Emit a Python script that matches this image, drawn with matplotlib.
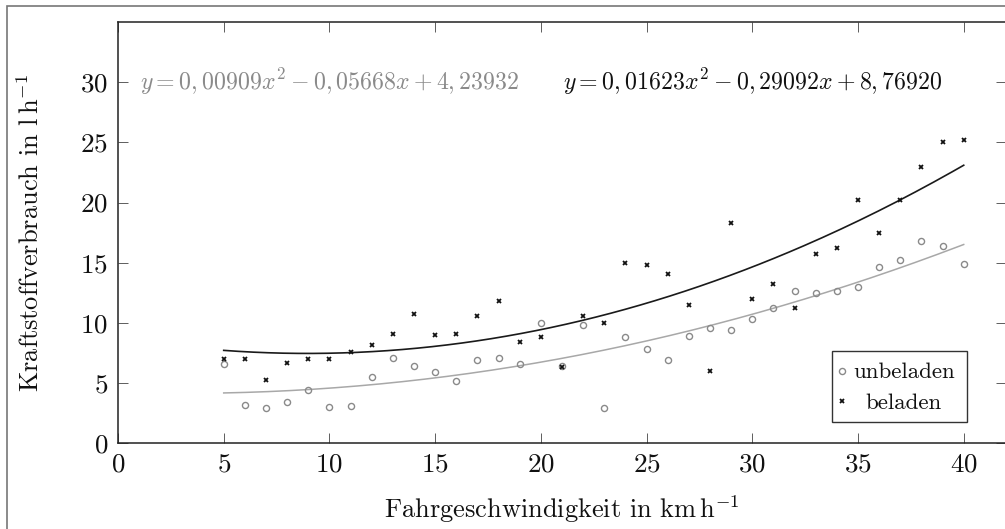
import numpy as np
import matplotlib
matplotlib.use("Agg")
import matplotlib.pyplot as plt
from matplotlib.patches import Rectangle

plt.rcParams['font.family'] = ['cmr10', 'DejaVu Serif']
plt.rcParams['mathtext.fontset'] = 'cm'
plt.rcParams['axes.formatter.use_mathtext'] = True
plt.rcParams['axes.unicode_minus'] = False

# ---- data ----
speed = list(range(5, 41))
unbeladen = [6.6, 3.2, 2.9, 3.4, 4.4, 3.0, 3.1, 5.5, 7.05, 6.45, 5.9, 5.2,
             6.9, 7.05, 6.55, 10.0, 6.4, 9.8, 2.9, 8.8, 7.8, 6.9, 8.95, 9.6,
             9.45, 10.35, 11.25, 12.65, 12.45, 12.65, 12.95, 14.65, 15.25,
             16.8, 16.4, 14.9]
beladen = [7.0, 7.0, 5.3, 6.65, 7.0, 7.0, 7.55, 8.2, 9.1, 10.75, 9.0, 9.1,
           10.6, 11.8, 8.45, 8.85, 6.3, 10.6, 10.0, 15.0, 14.85, 14.1, 11.5,
           6.0, 18.3, 12.0, 13.25, 11.2, 15.7, 16.2, 20.25, 17.5, 20.2,
           22.95, 25.0, 25.2]
coef_unbeladen = [0.00909, -0.05668, 4.23932]
coef_beladen = [0.01623, -0.29092, 8.76920]
label_unbeladen = "unbeladen"
label_beladen = "beladen"
eq_unbeladen = r"$y = 0,00909x^2 - 0,05668x + 4,23932$"
eq_beladen = r"$y = 0,01623x^2 - 0,29092x + 8,76920$"
xticks = [0, 5, 10, 15, 20, 25, 30, 35, 40]
yticks = [0, 5, 10, 15, 20, 25, 30]

GRAY = '#8a8a8a'
GRAY_LINE = '#a8a8a8'

fig = plt.figure(figsize=(10.05, 5.29), dpi=100)
W, H = 1005, 529
left, right, top, bottom = 118, 1006, 22, 443.3
ax = fig.add_axes([left / W, (H - bottom) / H, (right - left) / W, (bottom - top) / H])

xs = np.linspace(min(speed), max(speed), 200)
ax.plot(xs, np.polyval(coef_unbeladen, xs), color=GRAY_LINE, lw=1.1, zorder=2)
ax.plot(xs, np.polyval(coef_beladen, xs), color='#1a1a1a', lw=1.2, zorder=2)
ax.plot(speed, unbeladen, linestyle='none', marker='o', ms=4.4, mfc='none',
        mec=GRAY, mew=1.0, zorder=3)
ax.plot(speed, beladen, linestyle='none', marker='x', ms=3.4,
        mec='#111111', mew=1.3, zorder=3)

ax.set_xlim(0, 42)
ax.set_ylim(0, 35)
ax.set_xticks(xticks)
ax.set_yticks(yticks)
ax.tick_params(direction='in', length=7, width=0.6, color='#444444',
               top=True, right=True, labelsize=19.5, colors='#111111')
ax.tick_params(axis='x', pad=7)
ax.tick_params(axis='y', pad=7)
for s in ax.spines.values():
    s.set_linewidth(1.1)
    s.set_color('#222222')

ax.set_xlabel(r"Fahrgeschwindigkeit in $\mathrm{km\,h}^{-1}$", fontsize=19,
              labelpad=12, color='#111111')
ax.set_ylabel(r"Kraftstoffverbrauch in $\mathrm{l\,h}^{-1}$", fontsize=19,
              labelpad=26, color='#111111')

ax.text(10, 30, eq_unbeladen, ha='center', va='center', fontsize=17.2, color=GRAY)
ax.text(30, 30, eq_beladen, ha='center', va='center', fontsize=17.2, color='#111111')

# legend (manual, entries centered like pgfplots)
lx0, lx1, ly0, ly1 = 0.804, 0.9565, 0.0513, 0.2198
ax.add_patch(Rectangle((lx0, ly0), lx1 - lx0, ly1 - ly0, transform=ax.transAxes,
                       fill=True, facecolor='white', edgecolor='#333333', lw=1.0,
                       zorder=5))
ax.plot([0.815], [0.172], transform=ax.transAxes, marker='o', ms=4.4, mfc='none',
        mec=GRAY, mew=1.0, zorder=6, clip_on=False)
ax.plot([0.815], [0.100], transform=ax.transAxes, marker='x', ms=3.4,
        mec='#111111', mew=1.3, zorder=6, clip_on=False)
ax.text(0.885, 0.168, label_unbeladen, transform=ax.transAxes, ha='center',
        va='center', fontsize=16.5, zorder=6, color='#111111')
ax.text(0.885, 0.096, label_beladen, transform=ax.transAxes, ha='center',
        va='center', fontsize=16.5, zorder=6, color='#111111')

# outer frame of the picture
fig.patches.append(Rectangle((7 / W, -0.1), 1.2, (H - 6) / H + 0.1,
                             transform=fig.transFigure, fill=False,
                             edgecolor='#777777', lw=1.2))

fig.savefig("out.png", dpi=100)
